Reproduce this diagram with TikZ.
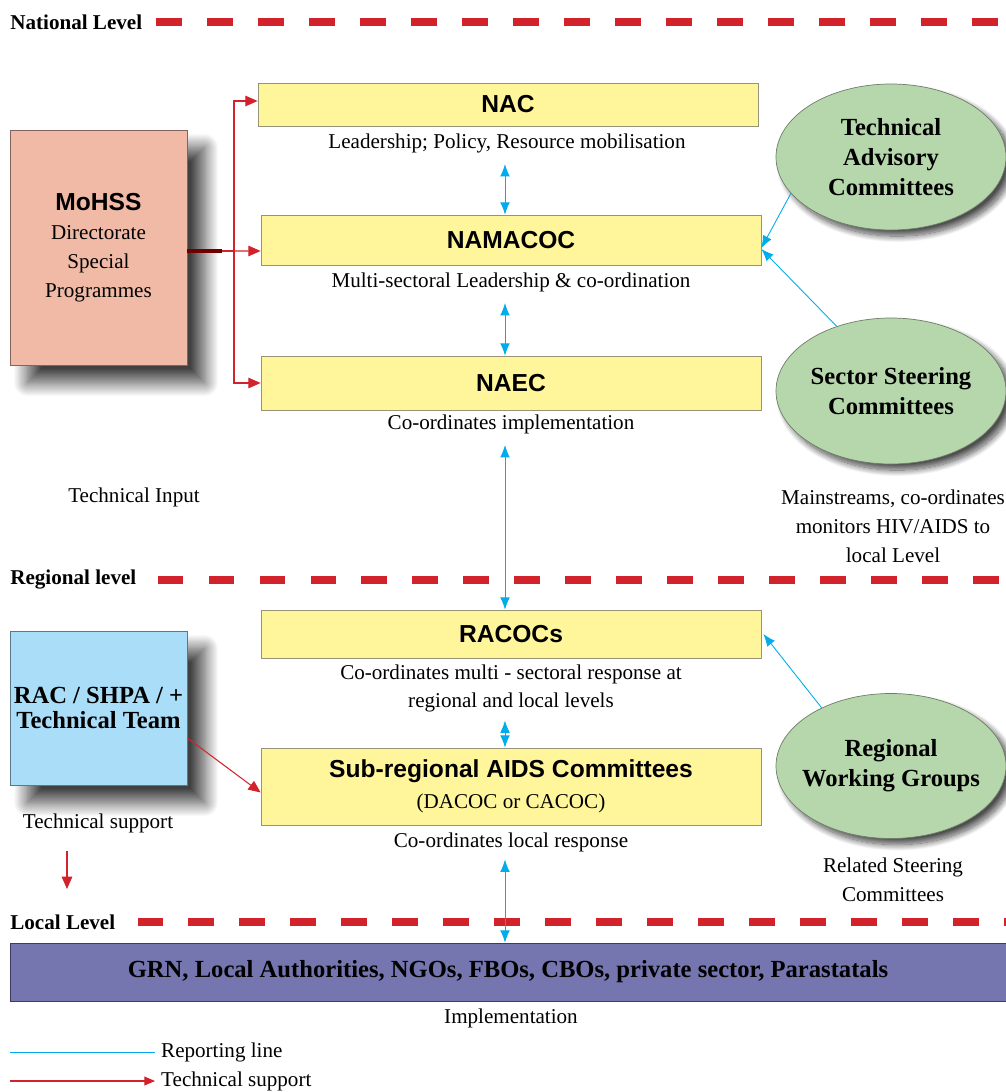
\documentclass[tikz,border=0pt]{standalone}
\usepackage{fontspec}
\setmainfont{Liberation Serif}
\setsansfont{Liberation Sans}
\usepackage{tikz}
\usetikzlibrary{shapes, positioning}
\usetikzlibrary{calc}
\usetikzlibrary{arrows.meta}
\usetikzlibrary{shadows, shadows.blur}
\definecolor{boxyellow}{RGB}{255,246,155}
\definecolor{boxedge}{RGB}{150,148,120}
\definecolor{salmon}{RGB}{240,186,166}
\definecolor{salmonedge}{RGB}{130,100,95}
\definecolor{skyblue}{RGB}{170,222,248}
\definecolor{skyedge}{RGB}{90,120,140}
\definecolor{ovalgreen}{RGB}{182,215,172}
\definecolor{ovaledge}{RGB}{110,125,105}
\definecolor{grnpurple}{RGB}{117,117,175}
\definecolor{grnedge}{RGB}{60,60,95}
\definecolor{repblue}{RGB}{0,172,236}
\definecolor{tsred}{RGB}{210,35,45}
\definecolor{darkred}{RGB}{110,0,0}

\begin{document}
\begin{tikzpicture}[x=0.2mm, y=-0.2mm,
		txt/.style={font=\fontsize{12}{16.4}\selectfont, align=center},
		lvl/.style={font=\fontsize{12}{14}\selectfont\bfseries, anchor=west, inner sep=0pt},
		levelline/.style={draw=tsred, line width=4.5pt, dash pattern=on 14.6pt off 14.4pt},
		ybox/.style={draw=boxedge, fill=boxyellow, minimum width=100mm, inner sep=0pt, align=center},
		sidebox/.style={minimum width=35.4mm, inner sep=0pt, align=center,
			blur shadow={shadow xshift=10pt, shadow yshift=-10pt, shadow blur radius=8pt,
				shadow blur steps=30, shadow opacity=75}},
		oval/.style={ellipse, draw=ovaledge, fill=ovalgreen, minimum width=46mm, minimum height=29.2mm,
			inner sep=0pt, align=center, font=\fontsize{14}{17}\selectfont\bfseries,
			blur shadow={shadow xshift=3.5pt, shadow yshift=-3.5pt, shadow blur radius=3.5pt,
				shadow blur steps=15, shadow opacity=70}},
		rep/.style={draw=repblue, line width=0.5pt},
		link/.style={rep, {Latex[length=7pt,width=5.5pt]}-{Latex[length=7pt,width=5.5pt]}},
		feed/.style={rep, -{Latex[length=7pt,width=5.5pt]}},
		tsup/.style={draw=tsred, line width=0.6pt, -{Triangle[length=7pt,width=6pt]}},
	]
		\useasboundingbox (0,0) rectangle (1006,1092);
		\coordinate (rightedge) at (1006,0);

		% levels
		\node[lvl] (natlbl) at (10,22) {National Level};
		\node[lvl] (reglbl) at (10,580) {Regional level};
		\node[lvl] (loclbl) at (10,922) {Local Level};
		\draw[levelline] ([xshift=2.8mm]natlbl.east) -- (natlbl.east -| rightedge);
		\draw[levelline] ([xshift=4.2mm]reglbl.east) -- (reglbl.east -| rightedge);
		\draw[levelline] ([xshift=4.4mm]loclbl.east) -- (loclbl.east -| rightedge);

		% national boxes
		\node[ybox, minimum height=8.6mm, minimum width=100mm] (nac) at (508,104.5) {\sffamily\bfseries\fontsize{14}{17}\selectfont NAC};
		\node[txt] (naclbl) at (507,143) {Leadership; Policy, Resource mobilisation};
		\node[ybox, minimum height=10mm] (namacoc) at (511,240) {\sffamily\bfseries\fontsize{14}{17}\selectfont NAMACOC};
		\node[txt] (namacoclbl) at (511,282) {Multi-sectoral Leadership \& co-ordination};
		\node[ybox, minimum height=10.8mm] (naec) at (511,383) {\sffamily\bfseries\fontsize{14}{17}\selectfont NAEC};
		\node[txt] (naeclbl) at (511,424) {Co-ordinates implementation};

		\node[sidebox, draw=salmonedge, fill=salmon, minimum height=47mm, txt] (mohss) at (98.5,247.5)
			{{\sffamily\bfseries\fontsize{14}{17}\selectfont MoHSS}\\Directorate\\Special\\Programmes};
		\node[txt] (techin) at (134,497) {Technical Input};

		\node[oval] (tac) at (891,157) {Technical\\Advisory\\Committees};
		\node[oval] (ssc) at (891,391) {Sector Steering\\Committees};
		\node[txt] (mainlbl) at (893,526) {Mainstreams, co-ordinates\\monitors HIV/AIDS to\\local Level};

		% regional boxes
		\node[ybox, minimum height=9.6mm] (racocs) at (511,634) {\sffamily\bfseries\fontsize{14}{17}\selectfont RACOCs};
		\node[txt] (racocslbl) at (511,688.5) {Co-ordinates multi - sectoral response at\\regional and local levels};
		\node[ybox, minimum height=15.4mm] (sub) at (511,786.5)
			{{\sffamily\bfseries\fontsize{14}{17}\selectfont Sub-regional AIDS Committees}\\[5.5pt]{\fontsize{12}{14}\selectfont (DACOC or CACOC)}};
		\node[txt] (sublbl) at (511,842) {Co-ordinates local response};

		\node[sidebox, draw=skyedge, fill=skyblue, minimum height=30.8mm, font=\fontsize{14}{14.7}\selectfont\bfseries] (rac) at (98.5,708)
			{RAC / SHPA / +\\Technical Team};
		\node[txt] (tslbl) at (98,823) {Technical support};
		\coordinate (tsend) at (67,889);

		\node[oval, minimum height=29mm, inner xsep=-6pt] (rwg) at (891,766) {Regional\\Working Groups};
		\node[txt] (rellbl) at (893,880) {Related Steering\\Committees};

		% local
		\node[draw=grnedge, fill=grnpurple, minimum width=199.2mm, minimum height=11.6mm, inner sep=0pt,
			font=\fontsize{14}{17}\selectfont\bfseries] (grn) at (508,972)
			{GRN, Local Authorities, NGOs, FBOs, CBOs, private sector, Parastatals};
		\node[txt] (grnlbl) at (511,1018) {Implementation};

		% reporting lines
		\draw[link, shorten >=3pt] ([xshift=-1.2mm]namacoc.north) -- ([xshift=-1.2mm]namacoc.north |- naclbl.south);
		\draw[link, shorten >=3pt] ([xshift=-1.2mm]naec.north) -- ([xshift=-1.2mm]naec.north |- namacoclbl.south);
		\draw[link, shorten >=3pt] ([xshift=-1.2mm]racocs.north) -- ([xshift=-1.2mm]racocs.north |- naeclbl.south);
		\draw[link, shorten >=1pt] ([xshift=-1.2mm]sub.north) -- ([xshift=-1.2mm]sub.north |- racocslbl.south);
		\draw[link, shorten >=1pt] ([xshift=-0.6mm]grn.north) -- ([xshift=-0.6mm]grn.north |- sublbl.south);
		\draw[feed] (tac.200) -- ([yshift=-1.6mm]namacoc.east);
		\draw[feed] (ssc.130) -- ([yshift=-1.8mm]namacoc.east);
		\draw[feed] (rwg.140) -- ([xshift=0.4mm]racocs.east);

		% technical support
		\coordinate (split) at (234,251);
		\draw[draw=darkred, line width=1.8pt] (mohss.east |- split) -- ([xshift=-2.4mm]split);
		\draw[draw=tsred, line width=1.5pt] ([xshift=-2.4mm]split) -- (split);
		\draw[tsup] (split) |- ([yshift=0.7mm]nac.west);
		\draw[tsup] (split) -- ([yshift=-2.2mm]namacoc.west);
		\draw[tsup] (split) |- (naec.west);
		\draw[tsup] ([yshift=-6mm]rac.east) -- ([yshift=-1.2mm]sub.west);
		\draw[tsup, shorten <=7pt] (tslbl.south -| tsend) -- (tsend);

		% legend
		\node[txt, anchor=west] (lgrep) at (155,1052) {Reporting line};
		\node[txt, anchor=west] (lgts) at (155,1081) {Technical support};
		\coordinate (lgstart) at (10,0);
		\draw[rep] (lgrep.west -| lgstart) -- (lgrep.west);
		\draw[tsup, -{Triangle[length=6pt,width=5pt]}] (lgts.west -| lgstart) -- (lgts.west);
	\end{tikzpicture}
\end{document}
